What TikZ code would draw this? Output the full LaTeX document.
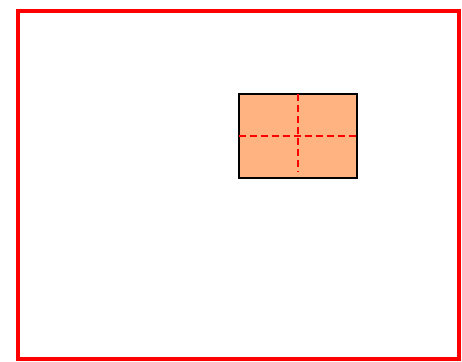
\documentclass[tikz,border=0pt]{standalone}
\definecolor{boxorange}{RGB}{255,179,128}
\tikzset{
  frame/.style={draw=red, line width=4pt},
  tile/.style={draw=black, fill=boxorange, line width=2pt},
  guide/.style={draw=red, line width=2pt, dash pattern=on 7pt off 4pt}
}
\begin{document}
\begin{tikzpicture}[x=1pt,y=-1pt]
\useasboundingbox (0,0) rectangle (462,361);
\draw[frame] (17.5,11.5) rectangle (459,358.5);
\draw[tile] (238.5,94) rectangle (356.5,177.5);
\coordinate (vt) at (297.5,94);
\coordinate (vb) at (297.5,172);
\coordinate (hl) at (238.5,135.5);
\coordinate (hr) at (356.5,135.5);
\draw[guide] (vt) -- (vb);
\draw[guide] (hl) -- (hr);
\end{tikzpicture}
\end{document}
